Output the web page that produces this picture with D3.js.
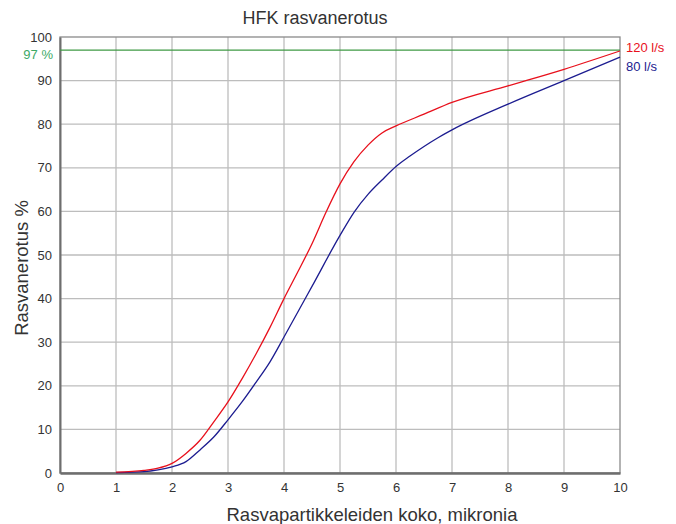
<!DOCTYPE html>
<html>
<head>
<meta charset="utf-8">
<script src="https://cdn.jsdelivr.net/npm/d3@7"></script>
<style>
  body { margin: 0; background: #fff; }
  text { font-family: "Liberation Sans", Arial, sans-serif; }
</style>
</head>
<body>
<script>
const width = 676
const height = 524

const xTicks = [0, 1, 2, 3, 4, 5, 6, 7, 8, 9, 10]
const yTicks = [0, 10, 20, 30, 40, 50, 60, 70, 80, 90, 100]

const redX = [1, 1.5, 1.75, 2, 2.25, 2.5, 2.75, 3, 3.25, 3.5, 3.75, 4, 4.25, 4.5, 4.75, 5, 5.25, 5.5, 5.75, 6, 6.5, 7, 8, 9, 10]
const redY = [0.2, 0.6, 1.1, 2.2, 4.5, 7.5, 11.8, 16.3, 21.6, 27.3, 33.4, 40, 46.2, 52.6, 59.8, 66.3, 71.4, 75.2, 78, 79.6, 82.3, 85, 88.8, 92.6, 96.8]

const blueX = [1, 1.5, 1.75, 2, 2.25, 2.5, 2.75, 3, 3.25, 3.5, 3.75, 4, 4.5, 5, 5.25, 5.5, 5.75, 6, 6.25, 6.5, 6.75, 7, 8, 9, 10]
const blueY = [0.1, 0.3, 0.7, 1.4, 2.6, 5.3, 8.3, 12.2, 16.3, 20.8, 25.5, 31.2, 42.8, 54.5, 59.8, 63.9, 67.2, 70.3, 72.7, 74.9, 76.9, 78.7, 84.6, 90, 95.4]

const limitValue = 97

const colors = {
    red: '#e8101c',
    blue: '#1c1c90',
    green: '#3f9a45',
    greenText: '#3daa66',
    grid: '#bdbdbd',
    frame: '#6e6e6e',
    text: '#333'
}

const margin = {left: 60, right: 56, top: 37, bottom: 51}

const svg = d3.select('body')
    .append('svg')
    .attr('width', width)
    .attr('height', height)

const x = d3.scaleLinear().domain([0, 10]).range([margin.left, width - margin.right])
const y = d3.scaleLinear().domain([0, 100]).range([height - margin.bottom, margin.top])

// grid
svg.append('g')
    .selectAll('line')
    .data(xTicks.slice(1, -1))
    .enter().append('line')
    .attr('x1', d => x(d)).attr('x2', d => x(d))
    .attr('y1', y(0)).attr('y2', y(100))
    .attr('stroke', colors.grid)
    .attr('stroke-width', 1.3)

svg.append('g')
    .selectAll('line')
    .data(yTicks.slice(1, -1))
    .enter().append('line')
    .attr('x1', x(0)).attr('x2', x(10))
    .attr('y1', d => y(d)).attr('y2', d => y(d))
    .attr('stroke', colors.grid)
    .attr('stroke-width', 1.3)

// frame
svg.append('rect')
    .attr('x', x(0)).attr('y', y(100))
    .attr('width', x(10) - x(0)).attr('height', y(0) - y(100))
    .attr('fill', 'none')
    .attr('stroke', '#8a8a8a')
    .attr('stroke-width', 1.3)

// axes
const xAxis = svg.append('g')
    .attr('transform', `translate(0,${y(0)})`)
    .call(d3.axisBottom(x).tickValues(xTicks).tickSize(0).tickPadding(10))
xAxis.select('.domain').attr('stroke', colors.frame).attr('stroke-width', 2.5)

const yAxis = svg.append('g')
    .attr('transform', `translate(${x(0)},0)`)
    .call(d3.axisLeft(y).tickValues(yTicks).tickSize(0).tickPadding(8))
yAxis.select('.domain').attr('stroke', colors.frame).attr('stroke-width', 2)

svg.selectAll('.tick text')
    .attr('fill', colors.text)
    .attr('font-size', 13)
    .attr('font-family', '"Liberation Sans", Arial, sans-serif')

// 97 % limit line
svg.append('line')
    .attr('x1', x(0)).attr('x2', x(10))
    .attr('y1', y(limitValue)).attr('y2', y(limitValue))
    .attr('stroke', colors.green)
    .attr('stroke-width', 1.3)

svg.append('text')
    .attr('x', x(0) - 7)
    .attr('y', y(limitValue) + 9)
    .attr('text-anchor', 'end')
    .attr('fill', colors.greenText)
    .attr('font-size', 13)
    .text('97 %')

// curves
const line = d3.line()
    .x(d => x(d[0]))
    .y(d => y(d[1]))
    .curve(d3.curveMonotoneX)

svg.append('path')
    .datum(blueX.map((v, i) => [v, blueY[i]]))
    .attr('d', line)
    .attr('fill', 'none')
    .attr('stroke', colors.blue)
    .attr('stroke-width', 1.3)

svg.append('path')
    .datum(redX.map((v, i) => [v, redY[i]]))
    .attr('d', line)
    .attr('fill', 'none')
    .attr('stroke', colors.red)
    .attr('stroke-width', 1.3)

// series labels
svg.append('text')
    .attr('x', x(10) + 6)
    .attr('y', y(redY[redY.length - 1]) + 1)
    .attr('fill', colors.red)
    .attr('font-size', 13)
    .text('120 l/s')

svg.append('text')
    .attr('x', x(10) + 6)
    .attr('y', y(blueY[blueY.length - 1]) + 14)
    .attr('fill', colors.blue)
    .attr('font-size', 13)
    .text('80 l/s')

// titles
svg.append('text')
    .attr('x', 315)
    .attr('y', 24)
    .attr('text-anchor', 'middle')
    .attr('fill', colors.text)
    .attr('font-size', 18)
    .text('HFK rasvanerotus')

svg.append('text')
    .attr('x', 372)
    .attr('y', 521)
    .attr('text-anchor', 'middle')
    .attr('fill', colors.text)
    .attr('font-size', 18.5)
    .text('Rasvapartikkeleiden koko, mikronia')

svg.append('text')
    .attr('transform', `translate(28,268) rotate(-90)`)
    .attr('text-anchor', 'middle')
    .attr('fill', colors.text)
    .attr('font-size', 18.5)
    .text('Rasvanerotus %')
</script>
</body>
</html>
